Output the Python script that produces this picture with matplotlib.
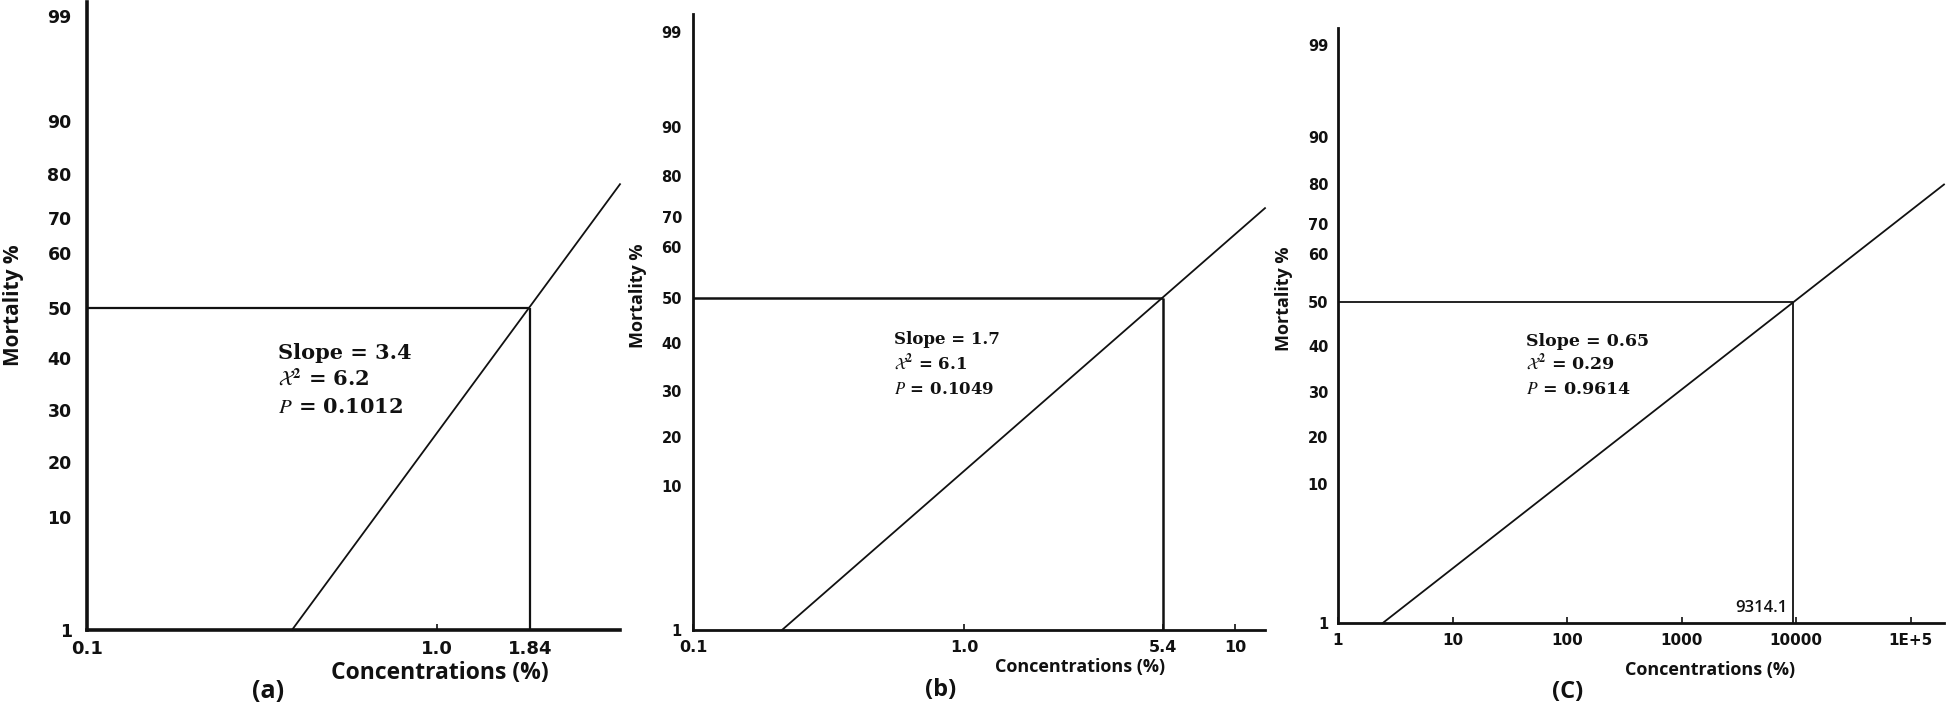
import matplotlib
matplotlib.use('Agg')
import matplotlib.pyplot as plt
import numpy as np

W, H = 1946, 710

# mortality ticks and where they sit on the hand-drawn probit axis (fraction of axis height)
MORT_TICKS = [1, 10, 20, 30, 40, 50, 60, 70, 80, 90, 99]
MORT_KNOTS = MORT_TICKS + [99.6]
POS_A = [0.0, 0.18, 0.268, 0.350, 0.433, 0.513, 0.600, 0.656, 0.726, 0.811, 0.978, 1.0]
POS_BC = [0.0, 0.234, 0.313, 0.388, 0.466, 0.539, 0.621, 0.671, 0.737, 0.816, 0.971, 1.0]

# panel (a)
A_XLIM = (0.1, 3.33)
A_XTICKS = [0.1, 1.0, 1.84]
A_XLABELS = ['0.1', '1.0', '1.84']
A_LC50 = 1.84
A_FIT_X = [0.385, 3.33]
A_FIT_Y = [1, 77.7]
A_STATS = ('3.4', '6.2', '0.1012')

# panel (b)
B_XLIM = (0.1, 12.9)
B_XTICKS = [0.1, 1.0, 5.4, 10]
B_XLABELS = ['0.1', '1.0', '5.4', '10']
B_LC50 = 5.4
B_FIT_X = [0.213, 12.9]
B_FIT_Y = [1, 72.1]
B_STATS = ('1.7', '6.1', '0.1049')

# panel (c)
C_XLIM = (1, 1.95e5)
C_XTICKS = [1, 10, 100, 1000, 10000, 1e5]
C_XLABELS = ['1', '10', '100', '1000', '10000', '1E+5']
C_LC50 = 9314.1
C_FIT_X = [2.46, 1.95e5]
C_FIT_Y = [1, 80]
C_STATS = ('0.65', '0.29', '0.9614')

plt.rcParams['mathtext.fontset'] = 'stix'
INK = '#111111'


def px(x, y):
    return x / W, 1 - y / H


def make_scale(pos):
    fwd = lambda v: np.interp(v, MORT_KNOTS, pos)
    inv = lambda p: np.interp(p, pos, MORT_KNOTS)
    return fwd, inv


def draw_panel(rect, pos, xlim, xticks, xlabels, lc50, fit_x, fit_y,
               xsize, ysize, ypad, spine_w, line_w):
    ax = fig.add_axes(rect)
    ax.set_xscale('log')
    ax.set_yscale('function', functions=make_scale(pos))
    ax.set_xlim(*xlim)
    ax.set_ylim(1, MORT_KNOTS[-1])

    # 50% guide lines and the fitted probit line
    ax.plot([xlim[0], lc50], [50, 50], color=INK, lw=line_w, solid_capstyle='butt')
    ax.plot([lc50, lc50], [1, 50], color=INK, lw=line_w, solid_capstyle='butt')
    ax.plot(fit_x, fit_y, color=INK, lw=1.3, clip_on=False)

    ax.set_xticks(xticks)
    ax.set_xticklabels(xlabels)
    ax.xaxis.set_minor_locator(matplotlib.ticker.NullLocator())
    ax.set_yticks(MORT_TICKS)
    ax.set_yticklabels([str(m) for m in MORT_TICKS])
    ax.yaxis.set_minor_locator(matplotlib.ticker.NullLocator())
    ax.tick_params(axis='x', direction='in', length=4, width=1.2, pad=7,
                   labelsize=xsize, colors=INK)
    ax.tick_params(axis='y', length=0, pad=ypad, labelsize=ysize, colors=INK)
    for lab in ax.get_xticklabels() + ax.get_yticklabels():
        lab.set_fontweight('bold')
        lab.set_family('DejaVu Sans')

    for s in ('top', 'right'):
        ax.spines[s].set_visible(False)
    for s in ('left', 'bottom'):
        ax.spines[s].set_linewidth(spine_w)
        ax.spines[s].set_color(INK)
    ax.patch.set_alpha(0)
    return ax


def stats(x, ys, vals, size):
    slope, chi, p = vals
    kw = dict(family='DejaVu Serif', fontweight='bold', fontsize=size,
              color=INK, ha='left', va='center')
    fig.text(*px(x, ys[0]), f'Slope = {slope}', **kw)
    fig.text(*px(x, ys[1]), r'$\mathcal{X}^{\mathbf{2}}$' + f' = {chi}', **kw)
    fig.text(*px(x, ys[2]), r'$\mathit{P}$' + f' = {p}', **kw)


fig = plt.figure(figsize=(W / 100, H / 100), dpi=100)

lab_kw = dict(family='Open Sans', fontweight='bold', color=INK)

# (a)
draw_panel([87 / W, 80 / H, 533 / W, 628 / H], POS_A, A_XLIM, A_XTICKS, A_XLABELS,
           A_LC50, A_FIT_X, A_FIT_Y, 13, 12.5, 11, 2.6, 1.6)
stats(278, (353, 378, 407), A_STATS, 15)
fig.text(*px(440, 673), 'Concentrations (%)', fontsize=16.5, ha='center', va='center', **lab_kw)
fig.text(*px(14, 305), 'Mortality %', fontsize=15, rotation=90, ha='center', va='center', **lab_kw)
fig.text(*px(268, 692), '(a)', fontsize=18, ha='center', va='center', **lab_kw)

# (b)
draw_panel([693 / W, 80 / H, 572 / W, 616 / H], POS_BC, B_XLIM, B_XTICKS, B_XLABELS,
           B_LC50, B_FIT_X, B_FIT_Y, 11.5, 10.5, 8, 2.0, 1.8)
stats(894, (340, 363, 389), B_STATS, 12)
fig.text(*px(1080, 667), 'Concentrations (%)', fontsize=13, ha='center', va='center', **lab_kw)
fig.text(*px(638, 296), 'Mortality %', fontsize=13, rotation=90, ha='center', va='center', **lab_kw)
fig.text(*px(941, 690), '(b)', fontsize=17, ha='center', va='center', **lab_kw)

# (c)
ax_c = draw_panel([1338 / W, 87 / H, 606 / W, 595 / H], POS_BC, C_XLIM, C_XTICKS, C_XLABELS,
                  C_LC50, C_FIT_X, C_FIT_Y, 11, 10.5, 7, 2.0, 1.3)
ax_c.annotate(f'{C_LC50}', xy=(C_LC50, 1), xytext=(-4, 5), textcoords='offset points',
              ha='right', va='bottom', fontsize=12, family='Open Sans',
              fontweight='semibold', color=INK)
stats(1526, (342, 363, 389), C_STATS, 12.5)
fig.text(*px(1710, 670), 'Concentrations (%)', fontsize=13, ha='center', va='center', **lab_kw)
fig.text(*px(1284, 299), 'Mortality %', fontsize=13, rotation=90, ha='center', va='center', **lab_kw)
fig.text(*px(1568, 692), '(C)', fontsize=17, ha='center', va='center', **lab_kw)

fig.savefig('out.png', dpi=100, facecolor='white')
